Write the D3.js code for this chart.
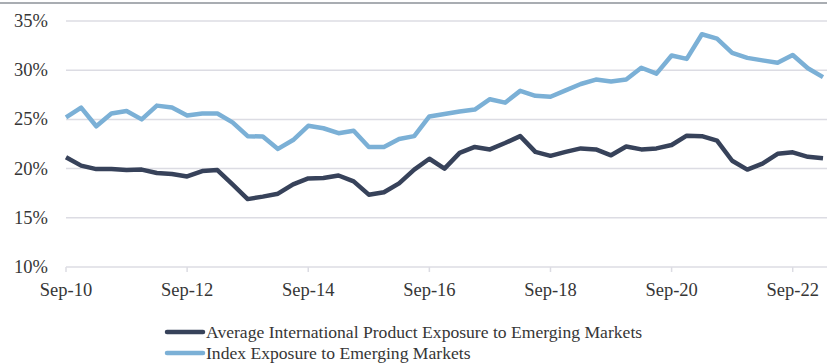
<!DOCTYPE html>
<html>
<head>
<meta charset="utf-8">
<script src="https://cdn.jsdelivr.net/npm/d3@7"></script>
<style>
  body { margin: 0; background: #fff; }
  svg { display: block; }
  text { font-family: "Liberation Serif", serif; fill: #363636; }
</style>
</head>
<body>
<svg id="chart" width="827" height="364"></svg>
<script>
// quarterly, Sep-10 .. Mar-23
const startDate = new Date(2010, 8, 30);
const avgProduct = [21.15, 20.3, 19.95, 19.95, 19.85, 19.9, 19.55, 19.45, 19.2, 19.75, 19.85,
  18.4, 16.9, 17.15, 17.45, 18.4, 19.0, 19.05, 19.3, 18.7, 17.35, 17.6, 18.5, 19.9, 21.0,
  20.0, 21.6, 22.2, 21.95, 22.6, 23.3, 21.7, 21.3, 21.7, 22.05, 21.95, 21.35, 22.25, 21.95,
  22.05, 22.4, 23.35, 23.3, 22.85, 20.8, 19.9, 20.5, 21.5, 21.65, 21.2, 21.05];
const indexExposure = [25.2, 26.2, 24.3, 25.6, 25.85, 25.0, 26.4, 26.2, 25.4, 25.6, 25.6,
  24.7, 23.3, 23.25, 22.0, 22.9, 24.35, 24.1, 23.6, 23.85, 22.2, 22.2, 23.0, 23.3, 25.3,
  25.55, 25.8, 26.0, 27.05, 26.7, 27.9, 27.4, 27.3, 27.95, 28.6, 29.05, 28.85, 29.05, 30.25,
  29.65, 31.5, 31.15, 33.65, 33.2, 31.75, 31.25, 31.0, 30.75, 31.55, 30.2, 29.3];
const yTicks = [10, 15, 20, 25, 30, 35];
const xTickYears = [2010, 2012, 2014, 2016, 2018, 2020, 2022];
const seriesNames = ["Average International Product Exposure to Emerging Markets",
  "Index Exposure to Emerging Markets"];
const colors = ["#37425a", "#7bb0d6"];

const quarterDate = (i) => d3.timeMonth.offset(startDate, 3 * i);

let svg = d3.select("#chart");

// top border
svg.append("line")
  .attr("x1", 0).attr("x2", 827)
  .attr("y1", 3).attr("y2", 3)
  .attr("stroke", "#a9adb2")
  .attr("stroke-width", 2);

const x = d3.scaleLinear()
  .domain([0, avgProduct.length - 1])
  .range([66, 823]);

const y = d3.scaleLinear()
  .domain([10, 35])
  .range([267, 21]);

// gridlines
svg.append("g")
  .selectAll("line")
  .data(yTicks)
  .enter()
  .append("line")
  .attr("x1", 66)
  .attr("x2", 827)
  .attr("y1", (d) => y(d))
  .attr("y2", (d) => y(d))
  .attr("stroke", "#dcdce3")
  .attr("stroke-width", 1.5);

// y labels
svg.append("g")
  .selectAll("text")
  .data(yTicks)
  .enter()
  .append("text")
  .attr("x", 48)
  .attr("y", (d) => y(d) + 6)
  .attr("text-anchor", "end")
  .style("font-size", "18.5px")
  .text((d) => d + "%");

// x axis ticks + labels
const xTickIdx = xTickYears.map((yr) => (yr - 2010) * 4);
const fmt = d3.timeFormat("%b-%y");

const xAxis = svg.append("g");
xAxis.selectAll("line")
  .data(xTickIdx)
  .enter()
  .append("line")
  .attr("x1", (d) => x(d))
  .attr("x2", (d) => x(d))
  .attr("y1", y(10))
  .attr("y2", y(10) + 5)
  .attr("stroke", "#dcdce3")
  .attr("stroke-width", 1.5);

xAxis.selectAll("text")
  .data(xTickIdx)
  .enter()
  .append("text")
  .attr("x", (d) => x(d))
  .attr("y", 296)
  .attr("text-anchor", "middle")
  .style("font-size", "18.5px")
  .text((d) => fmt(quarterDate(d)));

// lines
const line = d3.line()
  .x((d, i) => x(i))
  .y((d) => y(d));

[avgProduct, indexExposure].forEach((series, k) => {
  svg.append("path")
    .datum(series)
    .attr("fill", "none")
    .attr("stroke", colors[k])
    .attr("stroke-width", 4.5)
    .attr("stroke-linejoin", "round")
    .attr("d", line);
});

// legend
const legend = svg.append("g");
seriesNames.forEach((name, k) => {
  const ly = 332 + k * 21;
  legend.append("line")
    .attr("x1", 167).attr("x2", 203)
    .attr("y1", ly).attr("y2", ly)
    .attr("stroke", colors[k])
    .attr("stroke-width", 4.5)
    .attr("stroke-linecap", "round");
  legend.append("text")
    .attr("x", 206)
    .attr("y", ly + 6)
    .style("font-size", "17.6px")
    .text(name);
});
</script>
</body>
</html>
